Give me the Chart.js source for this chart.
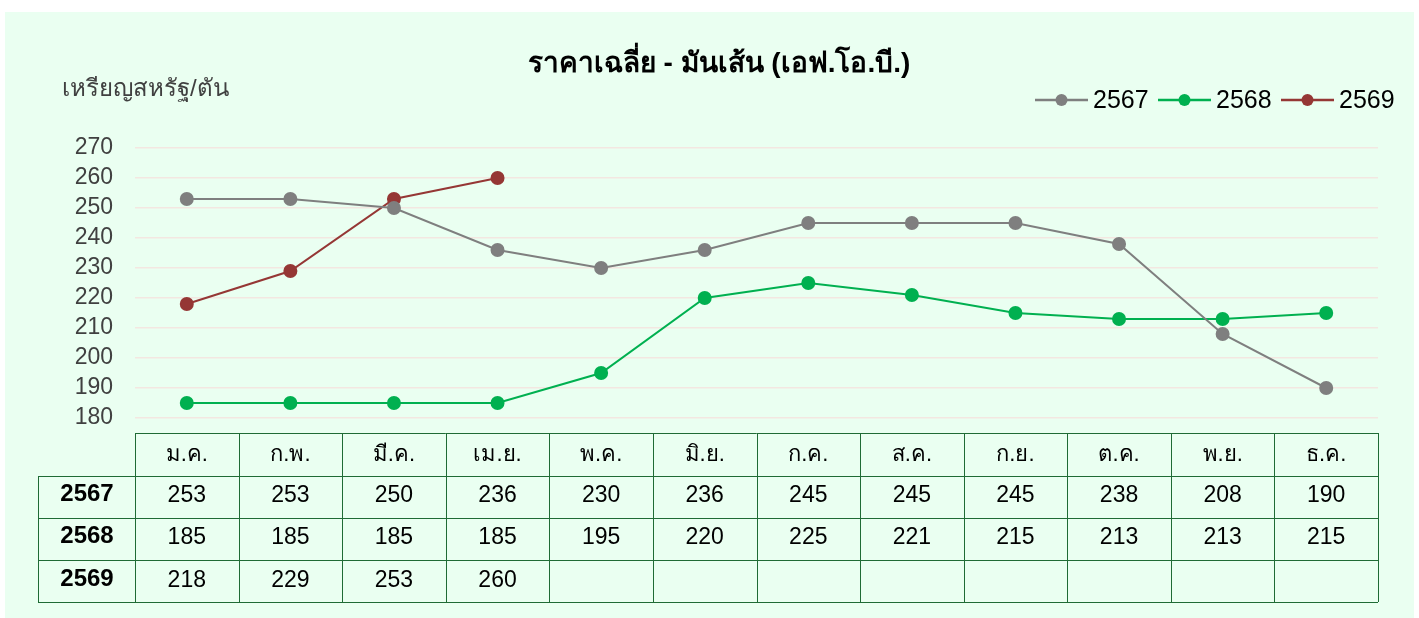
<!DOCTYPE html>
<html>
<head>
<meta charset="utf-8">
<script src="https://cdn.jsdelivr.net/npm/chart.js@4"></script>
<style>
  html, body { margin: 0; padding: 0; background: #ffffff; }
  #wrap { width: 1419px; height: 618px; }
</style>
</head>
<body>
<div id="wrap"><canvas id="miGrafica" width="1419" height="618"></canvas></div>
<script>
// datos
const meses = ['ม.ค.', 'ก.พ.', 'มี.ค.', 'เม.ย.', 'พ.ค.', 'มิ.ย.', 'ก.ค.', 'ส.ค.', 'ก.ย.', 'ต.ค.', 'พ.ย.', 'ธ.ค.'];
const anios = ['2567', '2568', '2569'];
const precio2567 = [253, 253, 250, 236, 230, 236, 245, 245, 245, 238, 208, 190];
const precio2568 = [185, 185, 185, 185, 195, 220, 225, 221, 215, 213, 213, 215];
const precio2569 = [218, 229, 253, 260, null, null, null, null, null, null, null, null];
const colores = ['#7f7f7f', '#00b050', '#953735'];

const titulo = 'ราคาเฉลี่ย - มันเส้น (เอฟ.โอ.บี.)';
const unidad = 'เหรียญสหรัฐ/ตัน';
const FUENTE = '"Liberation Sans", "Noto Sans", sans-serif';
const VERDE = '#1f6b35';

const series = [precio2567, precio2568, precio2569];

// fondo, titulo, leyenda y tabla
const extras = {
  id: 'extras',
  beforeDraw(chart) {
    const ctx = chart.ctx;
    ctx.save();
    ctx.fillStyle = '#ffffff';
    ctx.fillRect(0, 0, chart.width, chart.height);
    ctx.fillStyle = '#eafff1';
    ctx.fillRect(5, 12, 1409, 606);
    ctx.restore();
  },
  afterDraw(chart) {
    const ctx = chart.ctx;
    const x = chart.scales.x;
    ctx.save();

    // titulo
    ctx.fillStyle = '#000';
    ctx.font = 'bold 28px ' + FUENTE;
    ctx.textAlign = 'center';
    ctx.textBaseline = 'middle';
    ctx.fillText(titulo, 719, 64);

    // unidad
    ctx.fillStyle = '#404040';
    ctx.font = '24px ' + FUENTE;
    ctx.textAlign = 'left';
    ctx.fillText(unidad, 62, 89);

    // leyenda
    const legX = [1035, 1158, 1281];
    ctx.font = '25px ' + FUENTE;
    anios.forEach((a, i) => {
      const lx = legX[i];
      ctx.strokeStyle = colores[i];
      ctx.lineWidth = 2.5;
      ctx.beginPath();
      ctx.moveTo(lx, 100);
      ctx.lineTo(lx + 53, 100);
      ctx.stroke();
      ctx.fillStyle = colores[i];
      ctx.beginPath();
      ctx.arc(lx + 26.5, 100, 6, 0, Math.PI * 2);
      ctx.fill();
      ctx.fillStyle = '#000';
      ctx.textAlign = 'left';
      ctx.fillText(a, lx + 58, 101);
    });

    // tabla
    const n = meses.length;
    const w = (x.getPixelForValue(1) - x.getPixelForValue(0));
    const izq = x.getPixelForValue(0) - w / 2;
    const der = x.getPixelForValue(n - 1) + w / 2;
    const filas = [433, 475.5, 518, 560, 602];
    const cabIzq = 38;

    ctx.strokeStyle = VERDE;
    ctx.lineWidth = 1;
    // lineas horizontales
    filas.forEach((y, j) => {
      ctx.beginPath();
      ctx.moveTo(j === 0 ? izq : cabIzq, Math.round(y) + 0.5);
      ctx.lineTo(der, Math.round(y) + 0.5);
      ctx.stroke();
    });
    // verticales
    ctx.beginPath();
    ctx.moveTo(cabIzq + 0.5, Math.round(filas[1]));
    ctx.lineTo(cabIzq + 0.5, filas[4]);
    ctx.stroke();
    for (let i = 0; i <= n; i++) {
      const vx = Math.round(izq + i * w) + 0.5;
      ctx.beginPath();
      ctx.moveTo(vx, filas[0]);
      ctx.lineTo(vx, filas[4]);
      ctx.stroke();
    }

    ctx.textAlign = 'center';
    ctx.textBaseline = 'middle';
    ctx.fillStyle = '#000';
    ctx.font = '22px ' + FUENTE;
    meses.forEach((m, i) => {
      ctx.fillText(m, x.getPixelForValue(i), 455);
    });
    const centros = [496, 538, 581];
    series.forEach((s, j) => {
      ctx.font = 'bold 24px ' + FUENTE;
      ctx.fillText(anios[j], 87, centros[j] - 2);
      ctx.font = '23px ' + FUENTE;
      s.forEach((v, i) => {
        if (v !== null) ctx.fillText(String(v), x.getPixelForValue(i), centros[j]);
      });
    });

    ctx.restore();
  }
};

const micanvas = document.getElementById('miGrafica').getContext('2d');
const chart = new Chart(micanvas, {
  type: 'line',
  data: {
    labels: meses,
    datasets: anios.map((a, i) => ({
      label: a,
      data: series[i],
      borderColor: colores[i],
      backgroundColor: colores[i],
      borderWidth: 2,
      pointRadius: 6,
      pointHoverRadius: 6,
      tension: 0
    }))
  },
  options: {
    responsive: false,
    animation: false,
    layout: { padding: { left: 40, right: 41, top: 148, bottom: 200 } },
    plugins: {
      legend: { display: false },
      title: { display: false },
      tooltip: { enabled: false }
    },
    scales: {
      x: {
        type: 'category',
        offset: true,
        display: false
      },
      y: {
        min: 180,
        max: 270,
        afterFit: (s) => { s.width = 95; },
        border: { display: false },
        grid: { color: '#f3e7e1', lineWidth: 1.5, drawTicks: false },
        ticks: {
          stepSize: 10,
          autoSkip: false,
          padding: 22,
          color: '#404040',
          font: { family: FUENTE, size: 23 }
        }
      }
    }
  },
  plugins: [extras]
});
</script>
</body>
</html>
